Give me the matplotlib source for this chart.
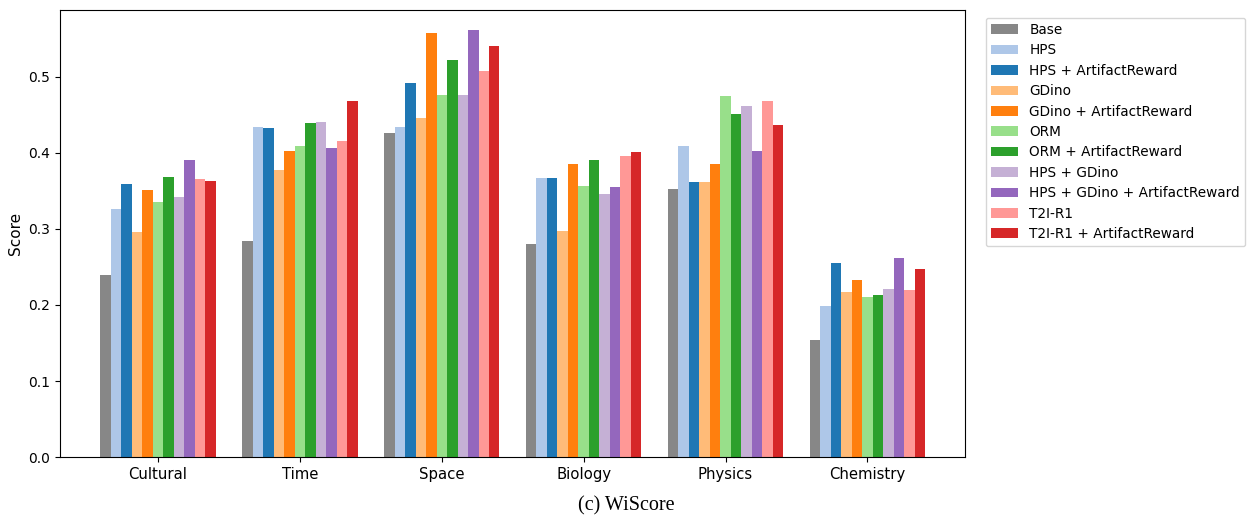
import numpy as np
import matplotlib
matplotlib.use("Agg")
from matplotlib import pyplot as plt

categories = ["Cultural", "Time", "Space", "Biology", "Physics", "Chemistry"]
methods = ["Base", "HPS", "HPS + ArtifactReward", "GDino", "GDino + ArtifactReward",
           "ORM", "ORM + ArtifactReward", "HPS + GDino", "HPS + GDino + ArtifactReward",
           "T2I-R1", "T2I-R1 + ArtifactReward"]

base = [0.240, 0.284, 0.426, 0.280, 0.353, 0.154]
hps = [0.326, 0.434, 0.434, 0.367, 0.409, 0.199]
hps_ar = [0.359, 0.433, 0.492, 0.367, 0.362, 0.255]
gdino = [0.296, 0.378, 0.446, 0.297, 0.362, 0.217]
gdino_ar = [0.351, 0.403, 0.557, 0.385, 0.385, 0.233]
orm = [0.336, 0.409, 0.476, 0.357, 0.475, 0.210]
orm_ar = [0.368, 0.439, 0.522, 0.391, 0.451, 0.213]
hps_gdino = [0.342, 0.441, 0.476, 0.346, 0.462, 0.221]
hps_gdino_ar = [0.391, 0.407, 0.561, 0.355, 0.403, 0.262]
t2i = [0.366, 0.416, 0.507, 0.396, 0.468, 0.220]
t2i_ar = [0.363, 0.468, 0.540, 0.401, 0.437, 0.247]

series = [base, hps, hps_ar, gdino, gdino_ar, orm, orm_ar, hps_gdino, hps_gdino_ar, t2i, t2i_ar]
colors = ["#878787", "#aec7e8", "#1f77b4", "#ffbb78", "#ff7f0e", "#98df8a",
          "#2ca02c", "#c5b0d5", "#9467bd", "#ff9896", "#d62728"]

fig = plt.figure(figsize=(12.52, 5.2), dpi=100)
ax = fig.add_axes([0.048, 0.121, 0.723, 0.860])

x = np.arange(len(categories))
width = 0.074
n = len(series)
for i, vals in enumerate(series):
    offset = (i - (n - 1) / 2) * width
    ax.bar(x + offset, vals, width, color=colors[i], label=methods[i])

ax.set_xticks(x)
ax.set_xticklabels(categories, fontsize=10.7)
ax.tick_params(axis="y", labelsize=10)
ax.set_ylabel("Score", fontsize=11)
ax.set_xlim(-0.69, 5.69)
ax.set_ylim(0, 0.588)
ax.legend(loc="upper left", bbox_to_anchor=(1.018, 0.992), fontsize=9.8,
          borderaxespad=0.3, labelspacing=0.47)

fig.text(0.5, 0.028, "(c) WiScore", ha="center", va="center",
         family="Liberation Serif", fontsize=14.5)

plt.savefig("out.png", dpi=100)
